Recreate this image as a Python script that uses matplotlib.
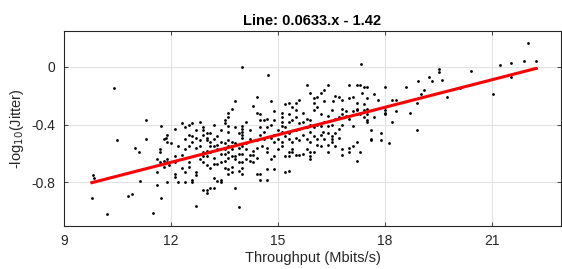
import matplotlib
matplotlib.use("Agg")
import matplotlib.pyplot as plt
import numpy as np

plt.rcParams['font.family'] = ['Liberation Sans', 'DejaVu Sans']

# (throughput Mbit/s, -log10 jitter) samples, grouped by throughput range
samples_low = [
    (9.78, -0.91), (9.82, -0.75), (9.85, -0.77), (10.2, -1.02), (10.4, -0.15),
    (10.48, -0.51), (10.8, -0.89), (10.9, -0.88), (11.0, -0.56), (11.1, -0.59),
    (11.12, -0.79), (11.3, -0.37), (11.3, -0.50), (11.5, -1.01), (11.6, -0.82),
    (11.72, -0.91), (11.6, -0.64), (11.6, -0.73), (11.7, -0.59), (11.7, -0.57),
    (11.7, -0.66), (11.8, -0.65), (11.8, -0.69), (11.72, -0.41), (11.85, -0.49),
    (11.8, -0.50), (11.9, -0.52), (11.9, -0.47), (11.9, -0.66), (11.9, -0.80),
    (11.9, -0.64), (11.95, -0.68), (12.0, -0.53), (12.1, -0.62), (12.1, -0.74),
    (12.1, -0.76), (12.1, -0.43), (12.2, -0.80), (12.3, -0.70), (12.1, -0.66),
]

samples_mid1 = [
    (14.0, 0.0), (13.8, -0.24), (13.7, -0.29), (13.6, -0.32), (13.6, -0.35),
    (13.5, -0.37), (13.5, -0.39), (14.3, -0.27), (14.4, -0.21), (14.4, -0.32),
    (14.1, -0.38), (14.2, -0.44),
    (12.3, -0.39), (12.4, -0.42), (12.5, -0.40), (12.6, -0.39), (12.7, -0.44),
    (12.8, -0.38), (12.9, -0.42), (12.9, -0.44), (12.9, -0.47), (13.2, -0.40),
    (13.1, -0.46), (13.4, -0.44), (13.6, -0.41), (13.6, -0.45), (14.0, -0.41),
    (14.0, -0.43), (14.0, -0.45), (14.0, -0.47), (14.0, -0.49), (12.6, -0.48),
    (12.7, -0.49), (13.0, -0.46), (13.0, -0.49), (13.3, -0.48), (13.8, -0.42),
    (13.9, -0.46),
    (12.8, -0.51), (13.0, -0.51), (13.1, -0.52), (13.1, -0.55), (13.2, -0.55),
    (13.4, -0.52), (13.5, -0.53), (13.6, -0.51), (13.6, -0.55), (13.7, -0.55),
    (13.7, -0.57), (13.8, -0.53), (13.9, -0.56), (13.9, -0.60), (14.0, -0.55),
    (14.0, -0.60), (14.1, -0.57), (14.2, -0.61), (14.3, -0.61), (14.4, -0.56),
    (14.4, -0.51), (12.4, -0.57), (12.3, -0.61), (12.5, -0.55), (12.6, -0.52),
    (12.7, -0.56), (12.8, -0.55), (12.9, -0.59), (13.0, -0.62), (13.1, -0.59),
    (13.2, -0.63), (13.3, -0.57), (13.4, -0.60), (13.5, -0.57), (13.6, -0.59),
    (13.7, -0.62), (13.8, -0.62), (13.8, -0.64), (12.9, -0.62), (13.0, -0.58),
    (13.3, -0.54), (13.5, -0.60), (13.7, -0.52), (14.1, -0.53), (14.2, -0.50),
    (14.3, -0.58), (13.2, -0.50), (12.4, -0.50), (12.5, -0.47), (12.2, -0.55),
    (12.5, -0.66), (12.5, -0.69), (12.8, -0.64), (12.9, -0.66), (13.2, -0.67),
    (13.3, -0.67), (13.4, -0.66), (13.5, -0.65), (13.6, -0.63), (13.9, -0.66),
    (14.0, -0.66), (14.1, -0.64), (14.2, -0.65), (14.3, -0.66), (14.4, -0.63),
    (12.4, -0.73), (12.4, -0.80), (12.6, -0.78), (12.6, -0.80), (12.7, -0.73),
    (12.7, -0.75), (13.0, -0.85), (13.0, -0.87), (12.9, -0.85), (13.1, -0.84),
    (13.2, -0.84), (12.7, -0.96), (13.9, -0.97), (13.8, -0.84), (13.2, -0.77),
    (13.3, -0.79), (13.4, -0.78), (13.4, -0.80), (13.6, -0.74), (13.6, -0.71),
    (13.7, -0.69), (13.7, -0.73), (14.0, -0.74), (14.4, -0.74), (14.0, -0.70),
    (13.9, -0.72), (13.5, -0.70), (13.1, -0.70), (13.0, -0.68),
]

samples_mid2 = [
    (14.71, -0.06), (15.8, -0.13), (15.9, -0.18), (16.2, -0.18), (16.4, -0.13),
    (16.3, -0.16), (16.1, -0.21), (16.0, -0.22), (14.8, -0.24), (15.2, -0.26),
    (15.3, -0.25), (15.5, -0.25), (15.6, -0.23), (15.4, -0.28), (15.5, -0.30),
    (16.0, -0.25), (16.1, -0.28), (16.3, -0.24), (16.55, -0.24), (16.6, -0.20),
    (14.9, -0.31), (15.1, -0.32), (15.1, -0.35), (15.3, -0.33), (15.5, -0.35),
    (15.7, -0.32), (15.8, -0.36), (16.0, -0.30), (16.2, -0.33), (16.4, -0.34),
    (16.5, -0.30), (14.5, -0.33), (14.5, -0.37), (14.6, -0.37), (14.7, -0.36),
    (14.9, -0.37), (15.1, -0.38), (15.3, -0.38), (15.4, -0.37), (15.6, -0.39),
    (15.7, -0.38), (15.9, -0.37), (16.1, -0.40), (16.3, -0.38), (16.4, -0.41),
    (16.5, -0.40), (16.6, -0.36), (14.5, -0.42), (14.7, -0.42), (15.1, -0.41),
    (15.1, -0.45), (14.9, -0.47), (14.5, -0.47), (15.5, -0.44), (15.8, -0.42),
    (15.9, -0.45), (16.25, -0.45), (16.4, -0.46), (16.5, -0.48),
    (14.55, -0.55), (14.7, -0.56), (14.7, -0.59), (14.8, -0.64), (14.9, -0.62),
    (15.0, -0.57), (15.1, -0.55), (15.2, -0.62), (15.3, -0.62), (15.3, -0.59),
    (15.4, -0.57), (15.4, -0.59), (15.5, -0.61), (15.6, -0.61), (15.7, -0.60),
    (15.8, -0.57), (15.9, -0.59), (15.9, -0.62), (15.9, -0.64), (16.0, -0.59),
    (16.1, -0.54), (16.2, -0.55), (16.4, -0.54), (16.4, -0.59), (16.5, -0.52),
    (16.6, -0.55), (14.5, -0.74), (14.5, -0.78), (14.7, -0.71), (14.7, -0.78),
    (14.9, -0.71), (15.2, -0.73), (15.3, -0.72),
    (14.6, -0.50), (14.8, -0.49), (14.9, -0.52), (15.0, -0.50), (15.1, -0.52),
    (15.2, -0.48), (15.3, -0.50), (15.4, -0.52), (15.5, -0.49), (15.6, -0.51),
    (15.7, -0.47), (15.8, -0.50), (15.9, -0.52), (16.0, -0.48), (16.1, -0.50),
    (16.2, -0.47), (16.3, -0.50), (16.5, -0.50), (16.6, -0.46), (16.7, -0.49),
    (14.6, -0.45), (15.0, -0.44), (15.3, -0.46), (15.6, -0.43), (16.0, -0.42),
    (16.7, -0.43), (14.8, -0.40), (15.2, -0.42), (15.9, -0.40), (16.2, -0.41),
    (16.8, -0.23), (16.7, -0.21), (16.8, -0.29), (16.9, -0.31), (16.8, -0.33),
    (16.7, -0.35), (16.9, -0.34), (16.8, -0.40), (16.8, -0.57), (16.8, -0.61),
]

samples_high = [
    (17.32, 0.02), (22.0, 0.16), (21.21, 0.01), (21.52, 0.025), (21.9, 0.04),
    (22.22, 0.04), (22.22, -0.01), (21.52, -0.07), (21.02, -0.19), (20.4, -0.03),
    (19.5, -0.02), (19.5, -0.04), (19.6, -0.09), (19.22, -0.07), (19.33, -0.10),
    (18.92, -0.10), (19.1, -0.16), (19.0, -0.19), (19.73, -0.21), (20.1, -0.15),
    (18.6, -0.14), (18.9, -0.25), (18.7, -0.32), (18.9, -0.44), (18.0, -0.14),
    (18.2, -0.23), (18.3, -0.23), (18.0, -0.28), (18.0, -0.33), (18.3, -0.31),
    (18.2, -0.38), (17.9, -0.46), (17.6, -0.44), (17.0, -0.13), (17.2, -0.13),
    (17.3, -0.13), (17.4, -0.14), (17.5, -0.14), (17.35, -0.18), (17.7, -0.19),
    (17.5, -0.22), (17.8, -0.23), (17.0, -0.22), (17.1, -0.21), (17.2, -0.25),
    (17.4, -0.26), (17.5, -0.29), (17.2, -0.29), (17.4, -0.30), (17.5, -0.33),
    (17.7, -0.35), (17.5, -0.37), (17.5, -0.38), (17.1, -0.31), (17.2, -0.30),
    (17.2, -0.33), (17.3, -0.33), (17.0, -0.36), (17.4, -0.35), (18.0, -0.30),
    (18.0, -0.32), (17.1, -0.41), (17.6, -0.50), (17.6, -0.51), (17.9, -0.51),
    (18.1, -0.53), (17.0, -0.56), (17.0, -0.59), (17.1, -0.55), (17.2, -0.52),
    (17.3, -0.59), (17.2, -0.65),
]

fit_slope = 0.0633
fit_intercept = -1.42
title_text = "Line: 0.0633.x - 1.42"
x_ticks = [9, 12, 15, 18, 21]
y_ticks = [-0.8, -0.4, 0]
y_tick_labels = ["-0.8", "-0.4", "0"]

all_samples = samples_low + samples_mid1 + samples_mid2 + samples_high
xs = np.array([p[0] for p in all_samples])
ys = np.array([p[1] for p in all_samples])

fig = plt.figure(figsize=(5.62, 2.69), dpi=100)
ax = fig.add_axes([0.114, 0.160, 0.884, 0.725])

ax.scatter(xs, ys, s=4, c='black', marker='o', linewidths=0, zorder=3)
lx = np.array([xs.min(), xs.max()])
ax.plot(lx, fit_slope * lx + fit_intercept, color='#ff0000', lw=2.2, zorder=4)

ax.set_xlim(9, 22.93)
ax.set_ylim(-1.1, 0.246)
ax.set_xticks(x_ticks)
ax.set_yticks(y_ticks)
ax.set_yticklabels(y_tick_labels)
ax.grid(True, color='#e3e3e3', lw=0.8, zorder=0)
ax.set_axisbelow(True)
ax.tick_params(direction='in', top=True, right=True, length=3, width=0.6,
               color='#262626', labelsize=10, labelcolor='#262626', pad=6)
for s in ax.spines.values():
    s.set_color('#262626')
    s.set_linewidth(0.8)

ax.set_title(title_text, fontsize=10.5, fontweight='bold', color='black', pad=4)
ax.set_xlabel("Throughput (Mbits/s)", fontsize=10.5, color='#262626', labelpad=2)
ax.set_ylabel("-log$_{10}$(Jitter)", fontsize=10.5, color='#262626', labelpad=4)

fig.savefig("out.png", dpi=100)
